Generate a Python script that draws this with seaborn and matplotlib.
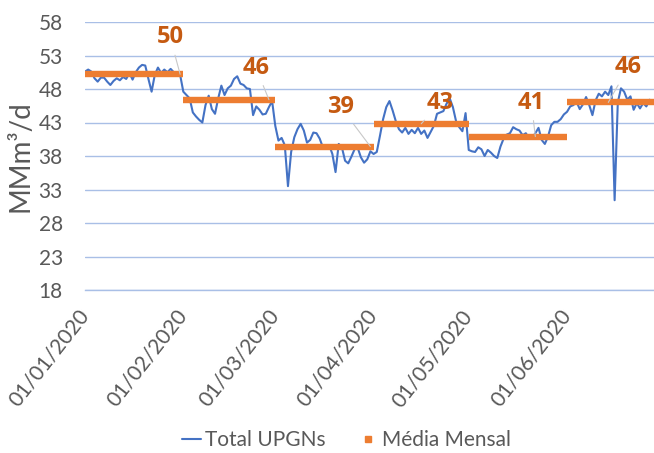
import numpy as np
import pandas as pd
import matplotlib
matplotlib.use('Agg')
import matplotlib.pyplot as plt
import matplotlib.dates as mdates
from matplotlib.lines import Line2D
import seaborn as sns

# daily values (MMm³/d), Jan-Jun 2020
jan = [50.6, 50.9, 50.6, 49.6, 49.1, 49.7, 49.7, 49.1, 48.6, 49.2, 49.6, 49.3, 49.8, 49.5, 50.4, 49.4,
       50.5, 51.2, 51.6, 51.5, 49.5, 47.6, 50.1, 51.2, 50.4, 50.9, 50.5, 51.0, 50.5, 50.3, 50.1]
feb = [47.6, 47.1, 46.6, 44.5, 43.9, 43.4, 43.0, 45.6, 47.0, 45.0, 44.3, 46.6, 48.5, 47.1, 48.1, 48.5,
       49.5, 49.9, 48.8, 48.6, 48.1, 48.0, 44.1, 45.4, 44.9, 44.2, 44.3, 45.3, 46.2]
mar = [42.5, 40.3, 40.7, 39.6, 33.5, 38.6, 40.8, 42.0, 42.8, 41.8, 40.0, 40.4, 41.5, 41.4, 40.6, 39.3,
       39.5, 39.6, 38.3, 35.6, 39.8, 39.3, 37.3, 36.9, 37.9, 39.0, 39.2, 37.8, 37.0, 37.5, 38.7]
apr = [38.3, 38.6, 41.0, 43.5, 45.3, 46.2, 44.8, 43.2, 42.0, 41.5, 42.2, 41.3, 41.9, 41.4, 42.2, 41.3,
       41.8, 40.7, 41.6, 42.5, 44.3, 44.5, 44.7, 45.8, 46.6, 45.3, 43.2, 42.3, 41.7, 44.4]
may = [38.9, 38.7, 38.6, 39.3, 39.0, 38.0, 38.9, 38.5, 38.0, 37.7, 39.4, 40.6, 41.2, 41.4, 42.3, 42.0,
       41.8, 41.1, 41.4, 40.7, 40.7, 41.4, 42.2, 40.4, 39.8, 40.9, 42.6, 43.1, 43.1, 43.5, 44.2]
jun = [44.6, 45.4, 45.6, 46.1, 45.0, 45.7, 46.8, 45.6, 44.1, 46.3, 47.3, 46.9, 47.6, 47.1, 48.4, 31.4,
       46.0, 48.1, 47.6, 46.4, 46.9, 44.9, 45.9, 45.1, 45.9, 45.4, 46.4, 46.1, 46.0, 46.2]

month_starts = ['2020-01-01', '2020-02-01', '2020-03-01', '2020-04-01', '2020-05-01', '2020-06-01']
month_ends = ['2020-02-01', '2020-03-01', '2020-04-01', '2020-05-01', '2020-06-01', '2020-07-01']
monthly_mean = [50.2, 46.4, 39.4, 42.8, 40.9, 46.0]
mean_labels = ['50', '46', '39', '43', '41', '46']
# where each label's leader line touches the bar
label_anchor = ['2020-01-31', '2020-02-28', '2020-03-31', '2020-04-16', '2020-05-22', '2020-06-14']

dates = pd.date_range('2020-01-01', '2020-06-30', freq='D')
df = pd.DataFrame({'data': dates, 'total': jan + feb + mar + apr + may + jun})

blue = '#4472C4'
orange = '#ED7D31'
label_orange = '#C55A11'
grid_blue = '#a9bfe6'
gray = '#595959'

sns.set_theme(style='white')
plt.rcParams['font.family'] = ['Lato', 'DejaVu Sans']

fig = plt.figure(figsize=(6.54, 4.53), dpi=100)
ax = fig.add_axes([85 / 654, 1 - 290 / 453, (654 - 85) / 654, 268 / 453])

sns.lineplot(data=df, x='data', y='total', ax=ax, color=blue, lw=1.5, zorder=3)

ax.hlines(monthly_mean, pd.to_datetime(month_starts), pd.to_datetime(month_ends),
          color=orange, lw=4.6, zorder=4, capstyle='butt')

offsets = [(-10, 37), (-13, 32), (-30, 40), (19, 21), (-4, 34), (20, 35)]
for d, m, lab, off in zip(label_anchor, monthly_mean, mean_labels, offsets):
    ax.annotate(lab, xy=(pd.Timestamp(d), m), xytext=off, textcoords='offset pixels',
                ha='center', va='center', fontsize=17, fontweight='bold', color=label_orange,
                family=['Open Sans', 'DejaVu Sans'],
                arrowprops=dict(arrowstyle='-', color='#c8c8c8', lw=0.8, shrinkA=2, shrinkB=0),
                zorder=5)

ax.set_ylim(18, 58)
ax.set_yticks(np.arange(18, 59, 5))
ax.set_xlim(pd.Timestamp('2020-01-01'), pd.Timestamp('2020-06-28 10:00'))
ax.xaxis.set_major_locator(mdates.MonthLocator())
ax.xaxis.set_major_formatter(mdates.DateFormatter('%d/%m/%Y'))

ax.grid(axis='y', color=grid_blue, lw=1)
ax.grid(axis='x', visible=False)
for s in ['top', 'right', 'left']:
    ax.spines[s].set_visible(False)
ax.spines['bottom'].set_color(grid_blue)
ax.spines['bottom'].set_linewidth(1)

ax.tick_params(axis='y', length=0, pad=16, labelsize=15, labelcolor=gray)
ax.tick_params(axis='x', length=5, width=1, color=grid_blue, pad=11, labelsize=15.2, labelcolor=gray)
for t in ax.get_xticklabels():
    t.set_rotation(52)
    t.set_ha('right')
    t.set_va('center')
    t.set_rotation_mode('anchor')

ax.set_xlabel('')
ax.set_ylabel('MMm³/d', fontsize=20, color=gray)
ax.yaxis.set_label_coords(-0.09, 0.5)

handles = [Line2D([0], [0], color=blue, lw=1.5),
           Line2D([0], [0], color=orange, lw=0, marker='s', markersize=5)]
fig.legend(handles, ['Total UPGNs', 'Média Mensal'], loc='center', bbox_to_anchor=(0.53, 0.028),
           ncol=2, frameon=False, fontsize=15, labelcolor=gray, handlelength=0.9,
           handletextpad=0.2, columnspacing=1.6)

fig.savefig('out.png', dpi=100)
